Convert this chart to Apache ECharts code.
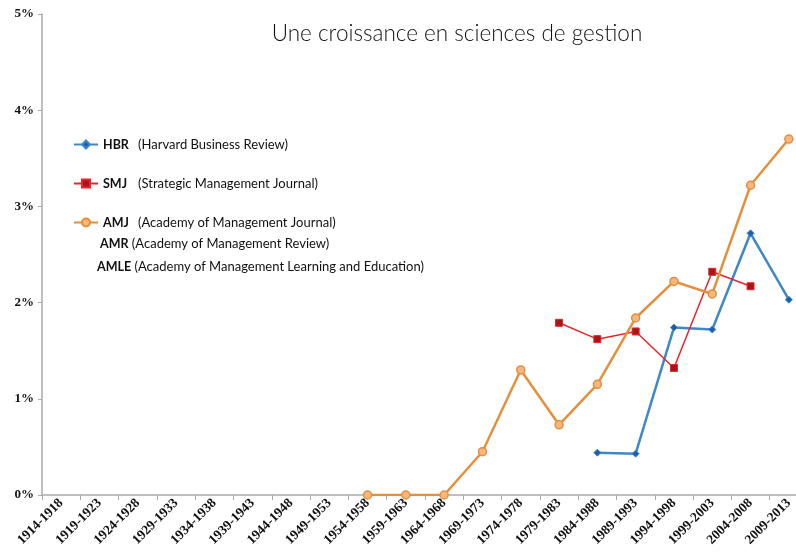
<!DOCTYPE html>
<html>
<head>
<meta charset="utf-8">
<script src="https://cdn.jsdelivr.net/npm/echarts@6/dist/echarts.min.js"></script>
<style>
  html, body { margin: 0; padding: 0; background: #fff; }
  #chart { width: 796px; height: 554px; }
</style>
</head>
<body>
<div id="chart"></div>
<script>
  // périodes de 5 ans
  const periods = ['1914-1918', '1919-1923', '1924-1928', '1929-1933', '1934-1938',
    '1939-1943', '1944-1948', '1949-1953', '1954-1958', '1959-1963', '1964-1968',
    '1969-1973', '1974-1978', '1979-1983', '1984-1988', '1989-1993', '1994-1998',
    '1999-2003', '2004-2008', '2009-2013'];
  const yTicks = [0, 1, 2, 3, 4, 5];

  // valeurs en %
  const hbr = [null, null, null, null, null, null, null, null, null, null, null,
    null, null, null, 0.44, 0.43, 1.74, 1.72, 2.72, 2.03];
  const smj = [null, null, null, null, null, null, null, null, null, null, null,
    null, null, 1.79, 1.62, 1.70, 1.32, 2.32, 2.17, null];
  const amj = [null, null, null, null, null, null, null, null, 0, 0, 0,
    0.45, 1.30, 0.73, 1.15, 1.84, 2.22, 2.09, 3.22, 3.70];

  const legendNames = {
    HBR: 'Harvard Business Review',
    SMJ: 'Strategic Management Journal',
    AMJ: 'Academy of Management Journal'
  };

  const myChart = echarts.init(document.getElementById('chart'));
  const textFont = 'Lato';
  const axisFont = '"Liberation Serif", "DejaVu Serif", serif';

  const richText = {
    b: { fontFamily: textFont, fontWeight: 'bold', fontSize: 12.5, fill: '#111' },
    n: { fontFamily: textFont, fontSize: 13, fill: '#111' }
  };

  myChart.setOption({
    animation: false,
    title: {
      text: 'Une croissance en sciences de gestion',
      left: 452,
      top: 17,
      textAlign: 'center',
      textStyle: { fontFamily: textFont, fontWeight: 300, fontSize: 22.5, color: '#111' }
    },
    legend: {
      orient: 'vertical',
      left: 68,
      top: 133,
      itemGap: 26,
      itemWidth: 24,
      itemHeight: 10,
      data: ['HBR', 'SMJ', 'AMJ'],
      formatter: function (name) {
        return '{b|' + name + '}{n|(' + legendNames[name] + ')}';
      },
      textStyle: {
        rich: {
          b: { fontFamily: textFont, fontWeight: 'bold', fontSize: 12.5, color: '#111', width: 35 },
          n: { fontFamily: textFont, fontSize: 13, color: '#111' }
        }
      }
    },
    graphic: [
      {
        type: 'text', left: 100, top: 237,
        style: { text: '{b|AMR} {n|(Academy of Management Review)}', rich: richText }
      },
      {
        type: 'text', left: 97, top: 260,
        style: { text: '{b|AMLE} {n|(Academy of Management Learning and Education)}', rich: richText }
      }
    ],
    grid: { left: 42, top: 14, width: 766, height: 481, outerBoundsMode: 'none' },
    xAxis: {
      type: 'category',
      data: periods,
      boundaryGap: true,
      axisLine: { lineStyle: { color: '#aaa', width: 1.5 } },
      axisTick: { show: true, length: 5, lineStyle: { color: '#aaa' } },
      axisLabel: {
        interval: 0,
        rotate: 45,
        margin: 6,
        fontFamily: axisFont,
        fontWeight: 'bold',
        fontSize: 13.5,
        color: '#111'
      },
      splitLine: { show: false }
    },
    yAxis: {
      type: 'value',
      min: yTicks[0],
      max: yTicks[yTicks.length - 1],
      interval: 1,
      axisLine: { show: true, lineStyle: { color: '#aaa', width: 1.5 } },
      axisTick: { show: true, length: 4, lineStyle: { color: '#aaa' } },
      axisLabel: {
        formatter: '{value}%',
        margin: 8,
        fontFamily: axisFont,
        fontWeight: 'bold',
        fontSize: 13,
        color: '#111'
      },
      splitLine: { show: false }
    },
    series: [
      {
        name: 'HBR', type: 'line', data: hbr,
        symbol: 'diamond', symbolSize: 7,
        lineStyle: { color: '#3f88c8', width: 2.5 },
        itemStyle: { color: '#1f5fa8', borderColor: '#3f88c8', borderWidth: 1 }
      },
      {
        name: 'SMJ', type: 'line', data: smj,
        symbol: 'rect', symbolSize: 7,
        lineStyle: { color: '#e8252a', width: 1.5 },
        itemStyle: { color: '#a8161b', borderColor: '#e8252a', borderWidth: 1 }
      },
      {
        name: 'AMJ', type: 'line', data: amj,
        symbol: 'circle', symbolSize: 8,
        lineStyle: { color: '#e58f3c', width: 2.5 },
        itemStyle: { color: '#f6b780', borderColor: '#e58f3c', borderWidth: 1.5 }
      }
    ]
  });
</script>
</body>
</html>
